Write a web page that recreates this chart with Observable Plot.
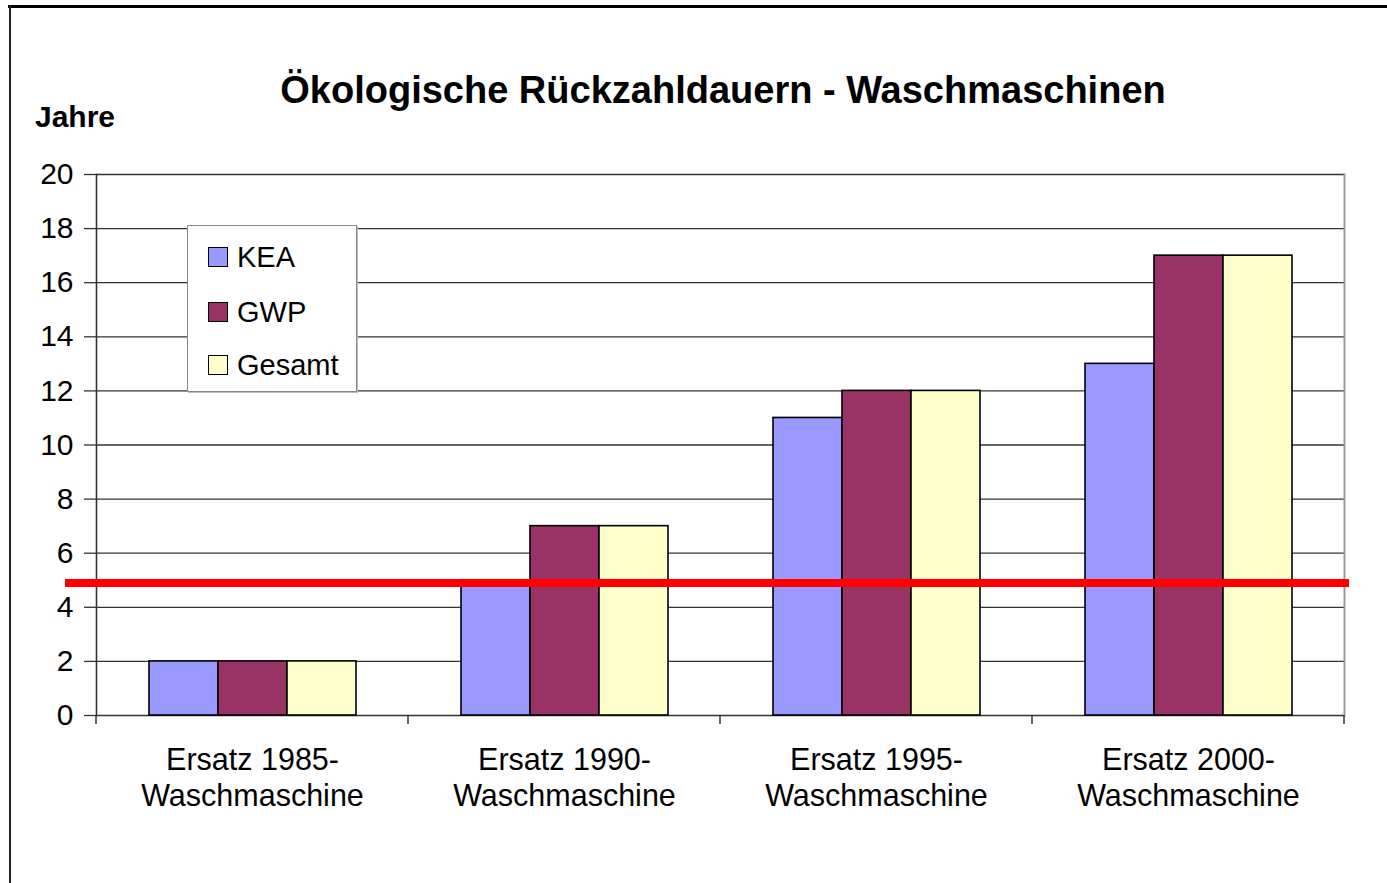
<!DOCTYPE html>
<html><head><meta charset="utf-8">
<script src="https://cdn.jsdelivr.net/npm/d3@7"></script>
<script src="https://cdn.jsdelivr.net/npm/@observablehq/plot@0.6"></script>
<style>
body{margin:0;background:#fff;font-family:"Liberation Sans",Arial,sans-serif;}
#wrap{position:relative;width:1387px;height:883px;overflow:hidden;background:#fff;}
#chart{position:absolute;left:0;top:0;}
#title{position:absolute;left:95px;width:1256px;top:68px;text-align:center;font-weight:bold;font-size:38px;line-height:44px;color:#000;}
#ylabel{position:absolute;left:35px;top:100px;font-weight:bold;font-size:30px;line-height:34px;color:#000;}
#legend{position:absolute;left:187px;top:225px;width:168px;height:165px;border:1px solid #888;box-shadow:1px 1px 0 #bbb;background:#fff;}
.item{position:absolute;left:20px;height:30px;font-size:29px;line-height:30px;display:flex;align-items:center;color:#000;}
.sw{width:18px;height:18px;border:1px solid #000;margin-right:9px;}
#topline{position:absolute;left:8px;top:5px;width:1379px;height:3px;background:#000;}
#leftline{position:absolute;left:9px;top:5px;width:2px;height:878px;background:#222;}
</style>
</head><body>
<div id="wrap">
  <div id="chart"></div>
  <div id="topline"></div>
  <div id="leftline"></div>
  <div id="title">Ökologische Rückzahldauern - Waschmaschinen</div>
  <div id="ylabel">Jahre</div>
  <div id="legend"></div>
</div>
<script>
// ---- data ----
const categories = [
  "Ersatz 1985-\nWaschmaschine",
  "Ersatz 1990-\nWaschmaschine",
  "Ersatz 1995-\nWaschmaschine",
  "Ersatz 2000-\nWaschmaschine"
];
const series = ["KEA", "GWP", "Gesamt"];
const kea = [2, 5, 11, 13];
const gwp = [2, 7, 12, 17];
const gesamt = [2, 7, 12, 17];
const colors = ["#9999FF", "#993366", "#FFFFCC"];
const threshold = 4.9;
const yTicks = [0, 2, 4, 6, 8, 10, 12, 14, 16, 18, 20];

const seriesValues = {KEA: kea, GWP: gwp, Gesamt: gesamt};
const data = categories.flatMap((c, i) => series.map(s => ({category: c, series: s, value: seriesValues[s][i]})));

const font = '"Liberation Sans", Arial, sans-serif';

const chart = Plot.plot({
  width: 1387,
  height: 883,
  marginLeft: 95,
  marginRight: 42,
  marginTop: 174,
  marginBottom: 168,
  style: {fontFamily: font, fontSize: "28px", color: "#000", background: "transparent"},
  fx: {domain: categories, padding: 0, label: null},
  x: {domain: series, paddingInner: 0, paddingOuter: 0.745, axis: null, label: null},
  y: {domain: [0, 20], label: null},
  color: {domain: series, range: colors},
  marks: [
    Plot.gridY(yTicks, {stroke: "#333", strokeOpacity: 1, strokeWidth: 1.3}),
    Plot.frame({anchor: "right", facetAnchor: "right", stroke: "#999", strokeWidth: 2}),
    Plot.frame({anchor: "left", facetAnchor: "left", stroke: "#333", strokeWidth: 1.6}),
    Plot.barY(data, {fx: "category", x: "series", y: "value", fill: "series", stroke: "#000", strokeWidth: 1.6, inset: 0}),
    Plot.ruleY([threshold], {stroke: "#ff0000", strokeWidth: 8, insetLeft: -31, insetRight: -5}),
    Plot.axisY(yTicks, {anchor: "left", tickSize: 12, tickPadding: 11, fontSize: 30, stroke: "#333", strokeWidth: 1.3, label: null}),
    Plot.axisFx({anchor: "bottom", tickSize: 0, tickPadding: 28, fontSize: 30.5, lineHeight: 1.2, label: null})
  ]
});

// category separator ticks below the baseline, placed with the fx / y scales
const fxs = chart.scale("fx");
const ys = chart.scale("y");
const y0 = ys.apply(0);
const bw = fxs.bandwidth;
const edges = categories.map(c => fxs.apply(c)).concat([fxs.apply(categories[categories.length - 1]) + bw]);
d3.select(chart).append("g").attr("stroke", "#333").attr("stroke-width", 1.5)
  .selectAll("line").data(edges).join("line")
  .attr("x1", d => d).attr("x2", d => d).attr("y1", y0).attr("y2", y0 + 9);

document.getElementById("chart").appendChild(chart);

// legend
const legend = document.getElementById("legend");
const rowTops = [16, 71, 124];
series.forEach((s, i) => {
  const it = document.createElement("div");
  it.className = "item";
  it.style.top = rowTops[i] + "px";
  const sw = document.createElement("span");
  sw.className = "sw";
  sw.style.background = colors[i];
  const tx = document.createElement("span");
  tx.textContent = s;
  it.appendChild(sw); it.appendChild(tx);
  legend.appendChild(it);
});
</script>
</body></html>
